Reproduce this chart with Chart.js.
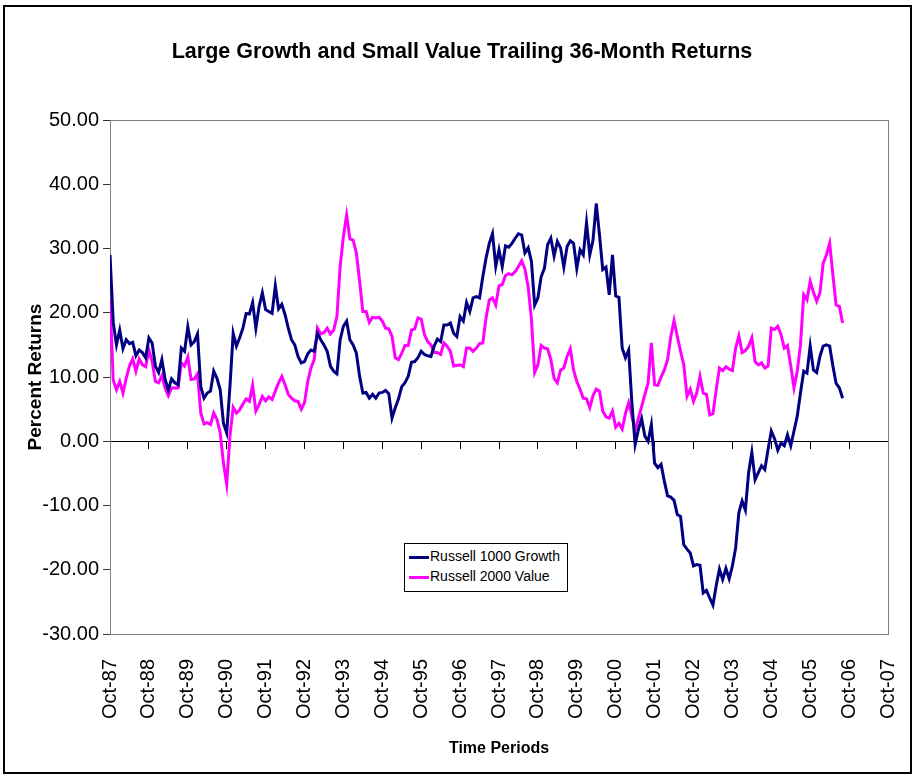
<!DOCTYPE html>
<html>
<head>
<meta charset="utf-8">
<script src="https://cdn.jsdelivr.net/npm/chart.js@4.4.1/dist/chart.umd.min.js"></script>
<style>
    body { margin: 0; background: #fff; }
    #wrap { position: relative; width: 916px; height: 775px; }
    #legend {
        position: absolute; left: 404px; top: 543px; width: 162px; height: 47px;
        border: 1px solid #000; background: #fff;
        font-family: 'Liberation Sans', Arial, sans-serif; font-size: 14px; color: #000;
    }
    .legend-item { position: absolute; left: 4px; height: 16px; line-height: 16px; white-space: nowrap; }
    .legend-line { display: inline-block; width: 20px; height: 3px; vertical-align: middle; margin-right: 1px; }
</style>
</head>
<body>
<div id="wrap">
    <canvas id="chart" width="916" height="775"></canvas>
    <div id="legend"></div>
</div>
<script>
// Rullande 36-månaders avkastning, en punkt per månad från Oct-87
const tickLabels = ['Oct-87', 'Oct-88', 'Oct-89', 'Oct-90', 'Oct-91', 'Oct-92', 'Oct-93',
    'Oct-94', 'Oct-95', 'Oct-96', 'Oct-97', 'Oct-98', 'Oct-99', 'Oct-00', 'Oct-01',
    'Oct-02', 'Oct-03', 'Oct-04', 'Oct-05', 'Oct-06', 'Oct-07']

const seriesNames = ['Russell 1000 Growth', 'Russell 2000 Value']

const growth = [
    29.0, 18.5, 15.0, 17.3, 14.4, 15.8, 15.2, 15.4, 13.3, 14.2, 13.8, 13.0,
    16.1, 15.3, 11.7, 10.7, 12.7, 9.6, 8.0, 9.7, 9.1, 8.8, 14.5, 14.0,
    17.8, 15.0, 15.5, 16.7, 8.5, 6.7, 7.5, 7.8, 10.9, 9.8, 8.0, 2.8,
    1.3, 8.5, 16.8, 14.8, 16.1, 17.6, 19.9, 19.8, 21.6, 17.6, 21.0, 23.1,
    20.5, 20.2, 19.9, 24.2, 20.6, 21.3, 19.7, 17.6, 15.8, 15.0, 13.2, 12.2,
    12.4, 13.6, 14.2, 14.0, 16.8, 15.8, 15.0, 14.0, 11.7, 10.9, 10.5, 15.8,
    17.9, 18.7, 15.8, 15.0, 13.7, 10.1, 7.5, 7.6, 6.7, 7.3, 6.7, 7.5,
    7.6, 7.9, 7.4, 3.6, 5.2, 6.6, 8.5, 9.1, 10.1, 12.3, 12.4, 13.0,
    14.0, 13.5, 13.3, 13.2, 14.8, 15.9, 15.5, 18.1, 18.1, 18.4, 16.8, 16.3,
    19.4, 18.7, 21.6, 20.2, 22.3, 22.5, 22.3, 25.6, 28.5, 30.8, 32.3, 27.2,
    29.8, 27.2, 30.4, 30.2, 30.8, 31.6, 32.3, 32.1, 29.3, 30.1, 28.0, 21.2,
    22.3, 25.6, 26.9, 30.6, 31.6, 28.8, 31.1, 30.1, 27.1, 30.3, 31.2, 30.8,
    26.9, 29.8, 29.0, 34.0, 29.0, 31.3, 37.0, 32.1, 26.7, 27.1, 22.8, 29.0,
    22.6, 22.4, 14.5, 13.0, 14.2, 5.9, -0.5, 1.8, 3.5, 0.8, 0.0, 2.6,
    -3.4, -4.1, -3.6, -6.2, -8.5, -8.7, -9.2, -11.4, -11.7, -16.1, -16.8, -17.4,
    -19.4, -19.2, -19.3, -23.6, -23.2, -24.4, -25.5, -22.5, -19.9, -21.5, -19.8, -21.4,
    -19.4, -16.6, -11.1, -9.3, -10.7, -4.9, -1.7, -6.0, -4.9, -3.8, -4.4, -1.3,
    1.6, 0.4, -1.4, -0.3, -0.7, 1.0, -0.7, 1.6, 3.9, 7.5, 10.9, 10.6,
    14.8, 11.1, 10.7, 13.2, 14.8, 15.0, 14.8, 11.7, 9.0, 8.3, 6.7
]

const value = [
    22.3, 9.5, 8.0, 9.3, 7.5, 9.8, 11.7, 12.8, 10.9, 12.8, 11.9, 11.6,
    14.2, 12.4, 9.3, 9.1, 10.2, 8.3, 7.1, 8.3, 8.3, 8.3, 12.2, 11.7,
    13.1, 9.6, 9.7, 10.5, 4.4, 2.7, 2.9, 2.6, 4.4, 3.4, 1.3, -3.4,
    -6.7, 0.8, 5.3, 4.4, 4.9, 5.8, 6.6, 6.2, 8.7, 4.7, 5.7, 7.0,
    6.3, 6.9, 6.5, 7.8, 9.1, 10.1, 8.8, 7.3, 6.7, 6.3, 6.2, 5.0,
    6.0, 9.3, 11.4, 12.7, 17.6, 16.7, 16.9, 17.6, 16.7, 17.3, 19.4, 27.2,
    31.9, 35.2, 31.5, 31.3, 29.3, 24.9, 20.2, 20.2, 18.5, 19.3, 19.2, 19.3,
    18.7, 17.6, 17.5, 16.3, 13.0, 12.7, 13.7, 14.9, 14.9, 17.3, 17.5, 19.2,
    19.0, 16.6, 15.5, 15.0, 13.8, 13.8, 13.5, 15.3, 14.8, 14.0, 11.7, 11.8,
    11.9, 11.6, 14.5, 14.5, 14.0, 14.5, 15.2, 15.3, 19.2, 22.0, 22.3, 21.2,
    24.2, 24.4, 25.8, 26.1, 25.9, 26.4, 27.2, 28.1, 26.8, 24.0, 19.0, 10.7,
    11.9, 14.9, 14.5, 14.4, 12.7, 9.8, 9.1, 11.1, 11.4, 13.2, 14.4, 11.1,
    9.3, 8.1, 6.7, 6.6, 5.2, 7.1, 8.1, 7.8, 4.7, 3.8, 3.6, 4.7,
    2.2, 2.8, 1.9, 4.3, 6.0, 3.9, 1.7, 3.6, 5.4, 7.3, 9.1, 15.3,
    8.8, 8.7, 10.0, 11.1, 12.7, 16.3, 18.8, 16.3, 14.0, 11.9, 7.0, 8.1,
    6.2, 7.5, 10.1, 7.5, 7.3, 4.1, 4.3, 8.0, 11.4, 11.0, 11.6, 11.2,
    11.0, 14.5, 16.4, 13.8, 14.1, 14.8, 16.1, 12.4, 11.9, 12.2, 11.4, 11.7,
    17.6, 17.4, 17.9, 16.6, 14.5, 14.9, 11.7, 8.3, 10.9, 15.0, 22.8, 22.0,
    24.9, 23.2, 21.8, 23.1, 27.7, 29.0, 30.8, 25.9, 21.2, 21.0, 18.4
]

const seriesColors = ['#000080', '#ff00ff']
const fontFamily = "'Liberation Sans', Arial, sans-serif"

// x = antal månader efter Oct-87
function toPoints(values) {
    return values.map((v, i) => ({ x: i, y: v }))
}

// Ram runt diagrammet och grå kant runt plotytan
const framePlugin = {
    id: 'frame',
    beforeDatasetsDraw(chart) {
        const { ctx, chartArea } = chart
        ctx.save()
        ctx.strokeStyle = '#808080'
        ctx.lineWidth = 1
        ctx.strokeRect(chartArea.left + 0.5, chartArea.top + 0.5,
            chartArea.right - chartArea.left, chartArea.bottom - chartArea.top)
        ctx.restore()
    },
    afterDraw(chart) {
        const { ctx } = chart
        ctx.save()
        ctx.strokeStyle = '#000'
        ctx.lineWidth = 2
        ctx.strokeRect(4, 6, 907, 767)
        ctx.restore()
    }
}

const ctx = document.getElementById('chart')

const chart = new Chart(ctx, {
    type: 'line',
    data: {
        datasets: [
            {
                label: seriesNames[0],
                data: toPoints(growth),
                borderColor: seriesColors[0],
                borderWidth: 3,
                pointRadius: 0,
                tension: 0
            },
            {
                label: seriesNames[1],
                data: toPoints(value),
                borderColor: seriesColors[1],
                borderWidth: 3,
                pointRadius: 0,
                tension: 0
            }
        ]
    },
    options: {
        responsive: false,
        animation: false,
        devicePixelRatio: 1,
        layout: { padding: { left: 23, right: 15, top: 0, bottom: 0 } },
        plugins: {
            legend: { display: false },
            tooltip: { enabled: false },
            title: {
                display: true,
                text: 'Large Growth and Small Value Trailing 36-Month Returns',
                color: '#000',
                font: { family: fontFamily, size: 21.5, weight: 'bold', lineHeight: 1.2 },
                padding: { top: 39, bottom: 55.2 }
            }
        },
        scales: {
            // axellinjen vid noll med små streck
            x: {
                type: 'linear',
                position: { y: 0 },
                min: 0,
                max: 240,
                ticks: { display: false, stepSize: 12, maxTicksLimit: 100 },
                grid: { drawOnChartArea: false, tickLength: 7, color: '#000' },
                border: { color: '#000', width: 1 }
            },
            // etiketterna längst ner
            xLabels: {
                type: 'linear',
                axis: 'x',
                position: 'bottom',
                min: 0,
                max: 240,
                grid: { display: false },
                border: { display: false },
                ticks: {
                    stepSize: 12,
                    maxTicksLimit: 100,
                    autoSkip: false,
                    minRotation: 90,
                    maxRotation: 90,
                    padding: 17,
                    color: '#000',
                    font: { family: fontFamily, size: 20 },
                    callback: (v) => tickLabels[Math.round(v / 12)]
                },
                title: {
                    display: true,
                    text: 'Time Periods',
                    color: '#000',
                    font: { family: fontFamily, size: 16, weight: 'bold' },
                    padding: { top: 0, bottom: 17 }
                },
                afterFit: (scale) => {
                    scale.height = 141
                    scale.paddingLeft = 0
                    scale.paddingRight = 28
                }
            },
            y: {
                min: -30,
                max: 50,
                ticks: {
                    stepSize: 10,
                    padding: 4,
                    color: '#000',
                    font: { family: fontFamily, size: 20 },
                    callback: (v) => v.toFixed(2)
                },
                grid: { drawOnChartArea: false, tickLength: 7, color: '#333' },
                border: { color: '#333', width: 1 },
                title: {
                    display: true,
                    text: 'Percent Returns',
                    color: '#000',
                    font: { family: fontFamily, size: 19, weight: 'bold' },
                    padding: { top: 1, bottom: 0 }
                },
                afterFit: (scale) => { scale.width = 87 }
            }
        }
    },
    plugins: [framePlugin]
})

// Legenden byggs från dataseten
const legend = document.getElementById('legend')
chart.data.datasets.forEach((ds, i) => {
    const item = document.createElement('div')
    item.className = 'legend-item'
    item.style.top = (4 + i * 20) + 'px'
    item.innerHTML = `<span class="legend-line" style="background:${ds.borderColor}"></span>${ds.label}`
    legend.appendChild(item)
})
</script>
</body>
</html>
